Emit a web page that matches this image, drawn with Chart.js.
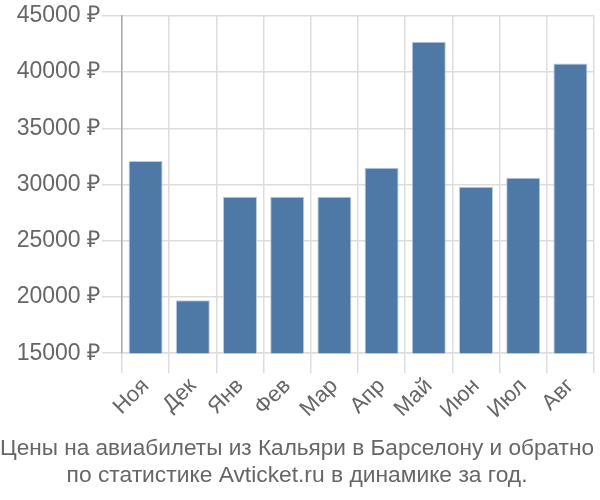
<!DOCTYPE html>
<html><head><meta charset="utf-8">
<script src="https://cdn.jsdelivr.net/npm/chart.js@4"></script>
<style>html,body{margin:0;padding:0;background:#fff}#wrap{width:600px;height:500px}</style>
</head><body><div id="wrap"><canvas id="c" width="600" height="500"></canvas></div>
<script>
const categories = ["Ноя","Дек","Янв","Фев","Мар","Апр","Май","Июн","Июл","Авг"];
const prices = [32100, 19700, 28900, 28900, 28900, 31500, 42700, 29800, 30600, 40750];
const titleLines = ["Цены на авиабилеты из Кальяри в Барселону и обратно","по статистике Avticket.ru в динамике за год."];
const yMin = 15000, yMax = 45000, yStep = 5000;

new Chart(document.getElementById('c'), {
  type: 'bar',
  data: { labels: categories, datasets: [{ data: prices, backgroundColor: '#4e79a7', borderColor: '#b9cce0', borderWidth: 1, categoryPercentage: 0.8, barPercentage: 0.9 }] },
  options: {
    responsive: false, animation: false,
    layout: { padding: { left: 0, right: 6, top: 4, bottom: 0 } },
    plugins: {
      legend: { display: false }, tooltip: { enabled: false },
      title: { display: true, position: 'bottom', text: titleLines, color: '#666', font: { family: 'Liberation Sans, Arial', size: 22.8, weight: 'normal', lineHeight: 1.18 }, padding: { top: 8, bottom: 11 } }
    },
    scales: {
      x: {
        grid: { color: '#dddddd', lineWidth: 1.5, offset: true, tickLength: 20, drawTicks: true },
        border: { color: '#dddddd', width: 1.5 },
        ticks: { color: '#666', font: { family: 'Liberation Sans, Arial', size: 22 }, maxRotation: 45, minRotation: 45, padding: 0 },
        afterFit: s => { s.height = 74; }
      },
      y: {
        min: yMin, max: yMax,
        grid: { color: '#dddddd', lineWidth: 1.5, tickLength: 20 },
        border: { color: '#aaaaaa', width: 1.5 },
        ticks: { stepSize: yStep, color: '#666', font: { family: 'Liberation Sans, Arial', size: 23 }, padding: 2, callback: v => v + ' ₽' },
        afterFit: s => { s.width = 122; }
      }
    }
  }
});
</script></body></html>
